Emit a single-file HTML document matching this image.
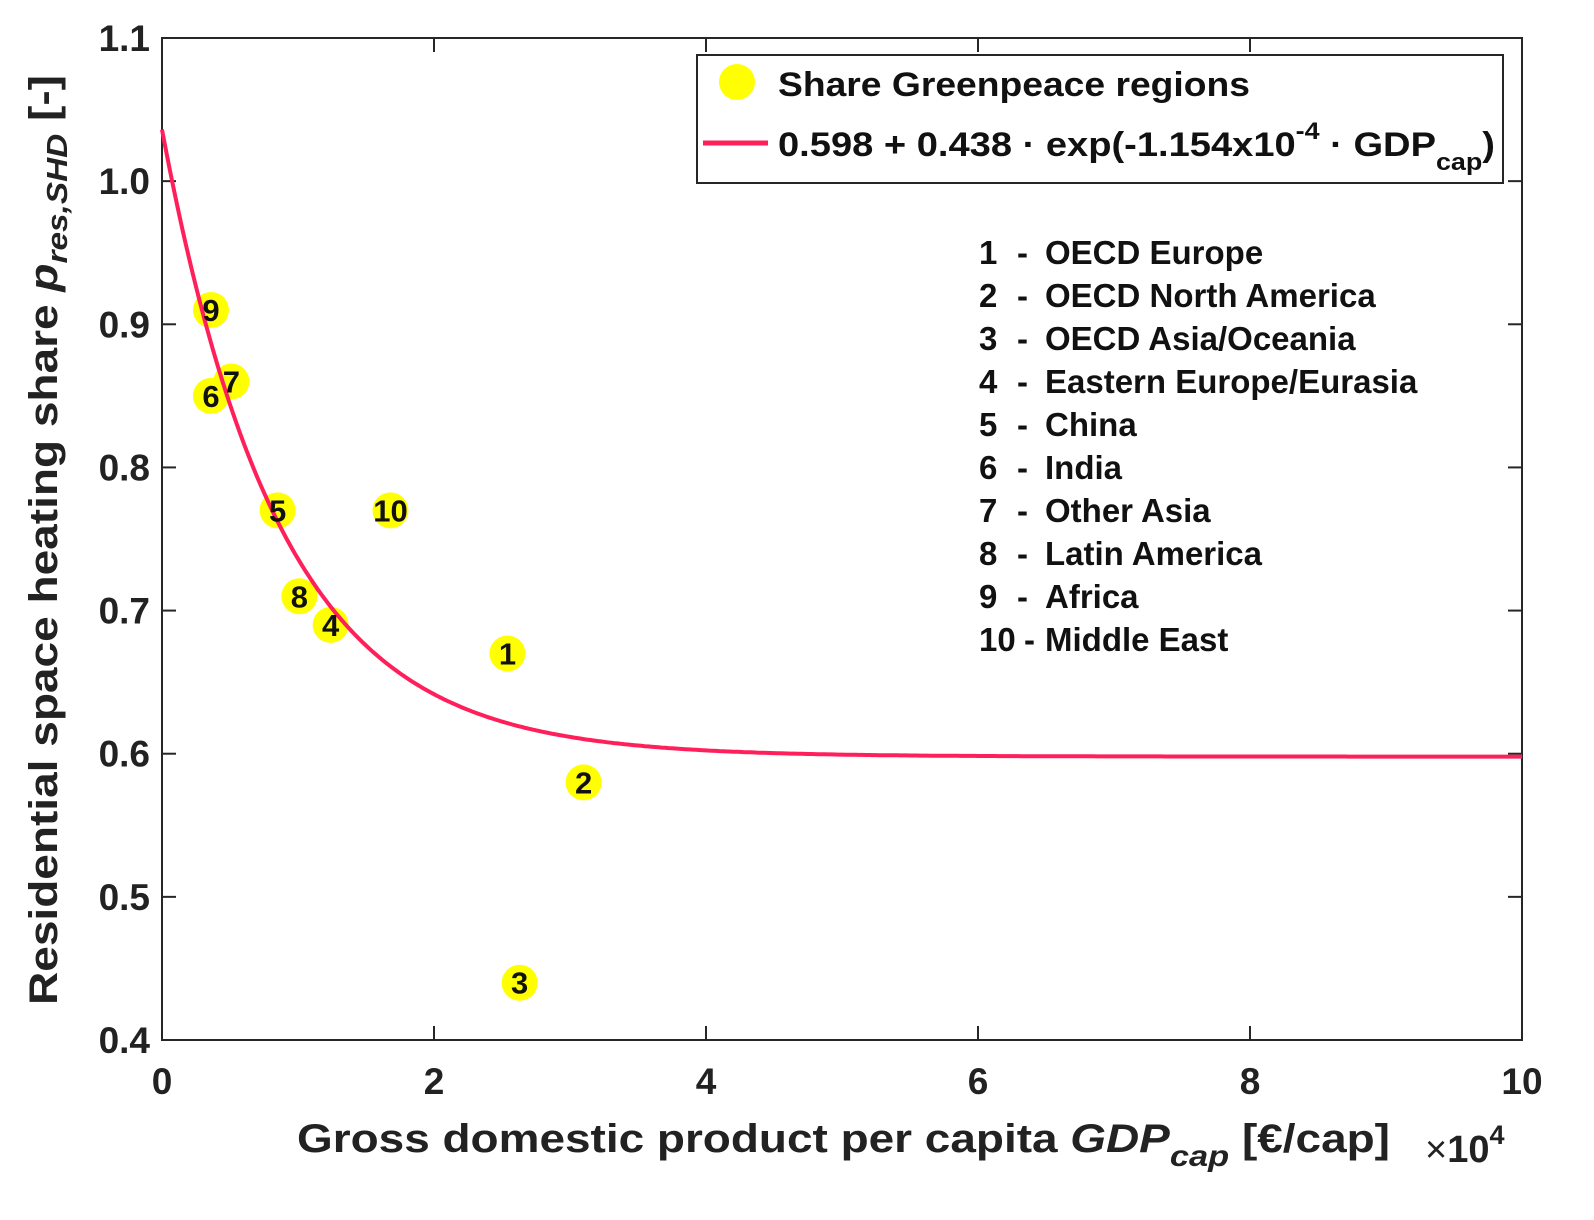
<!DOCTYPE html>
<html><head><meta charset="utf-8"><style>
html,body{margin:0;padding:0;background:#fff;}
svg{display:block;font-family:"Liberation Sans",sans-serif;font-weight:bold;}
</style></head><body>
<svg id="chart" width="1594" height="1220">
<rect x="162" y="38" width="1360" height="1002" fill="#fff" stroke="#262626" stroke-width="2"/>
<g id="axes"></g>
<g id="marks"></g>
<text x="0" y="0" transform="translate(57,540) rotate(-90)" text-anchor="middle" font-size="40" fill="#222" textLength="930" lengthAdjust="spacingAndGlyphs">Residential space heating share <tspan font-style="italic">p</tspan><tspan font-style="italic" font-size="29" dy="10">res,SHD</tspan><tspan dy="-10"> [-]</tspan></text>
<text x="297" y="1152" font-size="40" fill="#222" textLength="1093" lengthAdjust="spacingAndGlyphs">Gross domestic product per capita <tspan font-style="italic">GDP</tspan><tspan font-style="italic" font-size="30" dy="14">cap</tspan><tspan dy="-14"> [€/cap]</tspan></text>
<text x="1425" y="1162" font-size="38" fill="#222"><tspan font-weight="normal">×</tspan>10<tspan font-size="27" dy="-18">4</tspan></text>
<g>
<rect x="697" y="55" width="806" height="128" fill="#fff" stroke="#262626" stroke-width="2"/>
<circle cx="737" cy="82" r="18" fill="#ffff00"/>
<text x="778" y="96" font-size="34" fill="#111" textLength="472" lengthAdjust="spacingAndGlyphs">Share Greenpeace regions</text>
<line x1="703" y1="143" x2="768" y2="143" stroke="#ff1f5a" stroke-width="5"/>
<text x="778" y="156" font-size="34" fill="#111" textLength="717" lengthAdjust="spacingAndGlyphs">0.598 + 0.438 · exp(-1.154x10<tspan font-size="24" dy="-17">-4</tspan><tspan dy="17"> · GDP</tspan><tspan font-size="24" dy="14">cap</tspan><tspan dy="-14">)</tspan></text>
</g>
<g id="regions" font-size="33" fill="#111"></g>
</svg>
<script>
const regionIds = ["1","2","3","4","5","6","7","8","9","10"];
const gdpValues = [25400, 31000, 26300, 12400, 8500, 3600, 5100, 10100, 3600, 16800];
const shareValues = [0.67, 0.58, 0.44, 0.69, 0.77, 0.85, 0.86, 0.71, 0.91, 0.77];
const regionNames = ["OECD Europe","OECD North America","OECD Asia/Oceania","Eastern Europe/Eurasia","China","India","Other Asia","Latin America","Africa","Middle East"];
const xTicks = [0, 2, 4, 6, 8, 10];
const yTicks = [0.4, 0.5, 0.6, 0.7, 0.8, 0.9, 1.0, 1.1];
const yTickLabels = ["0.4","0.5","0.6","0.7","0.8","0.9","1.0","1.1"];
const fitA = 0.598, fitB = 0.438, fitK = 1.154e-4;

const NS = "http://www.w3.org/2000/svg";
const X0 = 162, X1 = 1522, Y0 = 1040, Y1 = 38;
const xs = v => X0 + (v / 100000) * (X1 - X0);
const ys = v => Y0 - (v - 0.4) / 0.7 * (Y0 - Y1);
function mk(tag, attrs, parent) {
  const e = document.createElementNS(NS, tag);
  for (const k in attrs) e.setAttribute(k, attrs[k]);
  parent.appendChild(e);
  return e;
}
const axes = document.getElementById('axes');
const marks = document.getElementById('marks');
xTicks.forEach(t => {
  const x = xs(t * 10000);
  const l1 = mk('line', {x1: x, y1: Y0, x2: x, y2: Y0 - 14, stroke: '#262626', 'stroke-width': 2}, axes);
  
  
  mk('line', {x1: x, y1: Y1, x2: x, y2: Y1 + 14, stroke: '#262626', 'stroke-width': 2}, axes);
  const tx = mk('text', {x: x, y: 1094, 'text-anchor': 'middle', 'font-size': 37, fill: '#222'}, axes);
  tx.textContent = String(t);
  
  
});
yTicks.forEach((t, i) => {
  const y = ys(t);
  const l1 = mk('line', {x1: X0, y1: y, x2: X0 + 14, y2: y, stroke: '#262626', 'stroke-width': 2}, axes);
  
  
  mk('line', {x1: X1, y1: y, x2: X1 - 14, y2: y, stroke: '#262626', 'stroke-width': 2}, axes);
  const tx = mk('text', {x: 150, y: y + 13, 'text-anchor': 'end', 'font-size': 37, fill: '#222'}, axes);
  tx.textContent = yTickLabels[i];
  
  
});
regionIds.forEach((id, i) => {
  const c = mk('circle', {cx: xs(gdpValues[i]), cy: ys(shareValues[i]), r: 18, fill: '#ffff00'}, marks);
  
  
});
let d = '';
for (let g = 0; g <= 100000; g += 250) {
  d += (g ? 'L' : 'M') + xs(g).toFixed(1) + ',' + ys(fitA + fitB * Math.exp(-fitK * g)).toFixed(1);
}
const p = mk('path', {d: d, fill: 'none', stroke: '#ff1f5a', 'stroke-width': 4}, marks);


regionIds.forEach((id, i) => {
  const t = mk('text', {x: xs(gdpValues[i]), y: ys(shareValues[i]) + 11, 'text-anchor': 'middle', 'font-size': 31, fill: '#111'}, marks);
  t.textContent = id;
  
  
});
const reg = document.getElementById('regions');
regionNames.forEach((n, i) => {
  const y = 264 + i * 43;
  const a = mk('text', {x: 979, y: y}, reg);
  a.textContent = regionIds[i];
  
  
  const dsh = mk('text', {x: i < 9 ? 1017 : 1024, y: y}, reg);
  dsh.textContent = '-';
  
  
  const b = mk('text', {x: 1045, y: y}, reg);
  b.textContent = n;
  
  
});
</script>
</body></html>
